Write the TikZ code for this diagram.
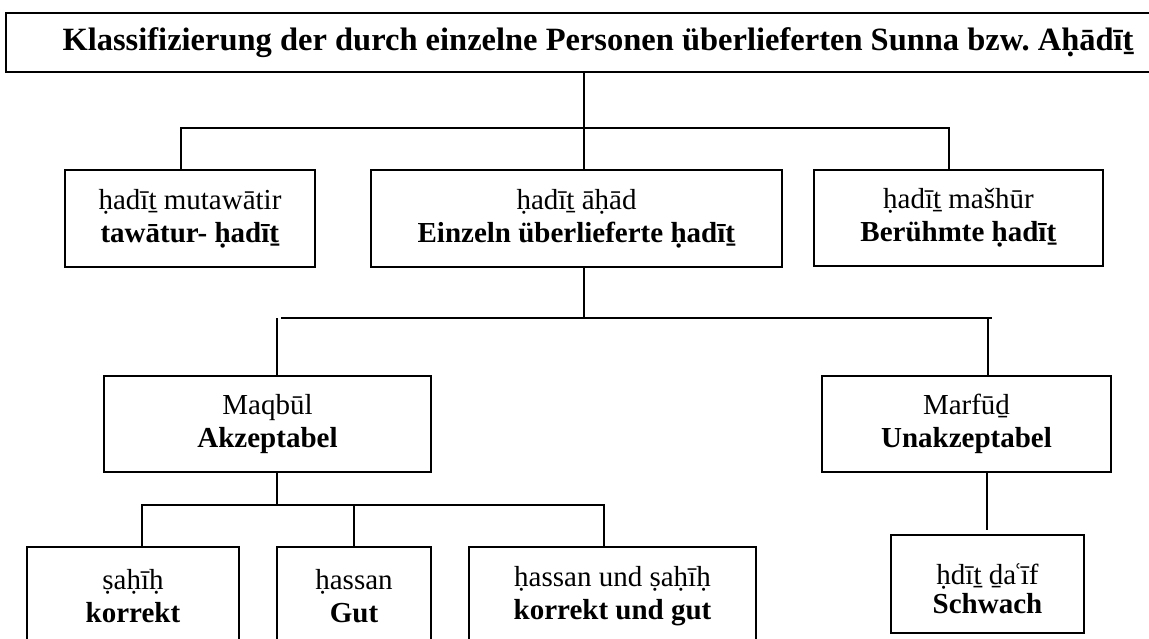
\documentclass[tikz,border=0pt]{standalone}
\usepackage{fontspec}
\setmainfont{Liberation Serif}
\begin{document}
\begin{tikzpicture}[x=1pt,y=-1pt,
  box/.style={draw=black, line width=1.6pt, rectangle, inner sep=0pt, align=center,
    font=\fontsize{29}{33}\selectfont},
  conn/.style={draw=black, line width=1.4pt}]
\useasboundingbox (0,0) rectangle (1149,639);
% title
\node[box, minimum width=1184pt, minimum height=59pt, font=\fontsize{32.5}{35}\selectfont\bfseries] (title) at (598,42.5)
  {Klassifizierung der durch einzelne Personen überlieferten Sunna bzw.\ Aḥādīṯ};
% row 1
\node[box, minimum width=250pt, minimum height=97pt] (a) at (190,218.5)
  {ḥadīṯ mutawātir\\\textbf{tawātur- ḥadīṯ}};
\node[box, minimum width=411pt, minimum height=97pt] (b) at (576.5,218.5)
  {ḥadīṯ āḥād\\\textbf{Einzeln überlieferte ḥadīṯ}};
\node[box, minimum width=289pt, minimum height=96pt] (c) at (958.5,218)
  {ḥadīṯ mašhūr\\\textbf{Berühmte ḥadīṯ}};
% row 2
\node[box, minimum width=327pt, minimum height=96pt] (maq) at (267.5,424)
  {Maqbūl\\\textbf{Akzeptabel}};
\node[box, minimum width=289pt, minimum height=96pt] (mar) at (966.5,424)
  {Marfūḏ\\\textbf{Unakzeptabel}};
% row 3
\node[box, minimum width=212pt, minimum height=98pt] (sah) at (133,596)
  {ṣaḥīḥ\\\textbf{korrekt}};
\node[box, minimum width=154pt, minimum height=98pt] (has) at (354,596)
  {ḥassan\\\textbf{Gut}};
\node[box, minimum width=287pt, minimum height=98pt] (hus) at (612.5,596)
  {ḥassan und ṣaḥīḥ\\\textbf{korrekt und gut}};
\node[box, minimum width=193pt, minimum height=98pt, font=\fontsize{29}{29}\selectfont] (daif) at (987.5,584)
  {\rule{0pt}{31pt}ḥdīṯ ḏa\kern-3ptʿ\kern-2ptīf\\\textbf{Schwach}};
% junctions
\coordinate (j1) at (584,128);
\coordinate (j1l) at (181,128);
\coordinate (j1r) at (949,128);
\coordinate (j2) at (584,318);
\coordinate (j2l) at (281,318);
\coordinate (j2lv) at (277,318);
\coordinate (j2r) at (992,318);
\coordinate (j2rv) at (988,318);
\coordinate (j3) at (277,505);
\coordinate (j3l) at (142,505);
\coordinate (j3m) at (354,505);
\coordinate (j3r) at (604,505);
\coordinate (j4) at (987,530);
% connectors level 1
\draw[conn] (title.south -| j1) -- (b.north -| j1);
\draw[conn] (a.north -| j1l) -- (j1l) -- (j1r) -- (c.north -| j1r);
% level 2
\draw[conn] (b.south -| j2) -- (j2);
\draw[conn] (j2l) -- (j2r);
\draw[conn] (j2lv) -- (maq.north -| j2lv);
\draw[conn] (j2rv) -- (mar.north -| j2rv);
% level 3
\draw[conn] (maq.south -| j3) -- (j3);
\draw[conn] (sah.north -| j3l) -- (j3l) -- (j3r) -- (hus.north -| j3r);
\draw[conn] (j3m) -- (has.north -| j3m);
% level 4
\draw[conn] (mar.south -| j4) -- (j4);
\end{tikzpicture}
\end{document}
